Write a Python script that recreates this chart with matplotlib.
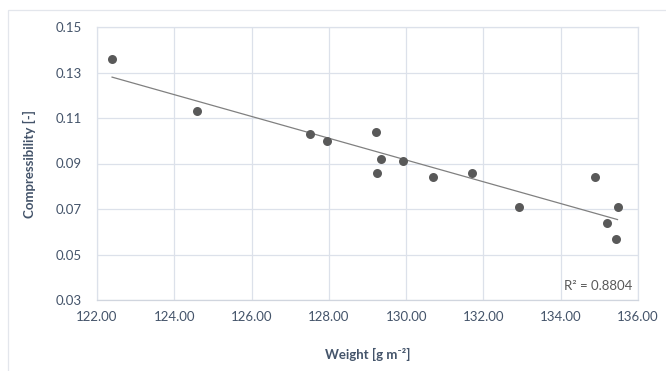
import numpy as np
import matplotlib
matplotlib.use("Agg")
import matplotlib.pyplot as plt
from matplotlib.patches import Rectangle

weight = [122.39, 124.58, 127.51, 127.94, 129.21, 129.25, 129.36, 129.93,
          130.69, 131.70, 132.92, 134.89, 135.47, 135.21, 135.44]
compressibility = [0.136, 0.113, 0.103, 0.100, 0.104, 0.086, 0.092, 0.091,
                   0.084, 0.086, 0.071, 0.084, 0.071, 0.064, 0.057]
x_ticks = [122, 124, 126, 128, 130, 132, 134, 136]
y_ticks = [0.03, 0.05, 0.07, 0.09, 0.11, 0.13, 0.15]
r2_label = "R² = 0.8804"

plt.rcParams['font.family'] = ['Lato', 'DejaVu Sans']
text_col = '#44546A'
grid_col = '#DCE1EA'

fig = plt.figure(figsize=(6.66, 3.71), dpi=100)
ax = fig.add_axes([97/666, 1-300/371, (638-97)/666, (300-27)/371])

# outer chart border
fig.patches.append(Rectangle((8/666, -0.1), 1.2, 1 - 10/371 + 0.1,
                             transform=fig.transFigure, fill=False,
                             edgecolor='#E3E6EC', linewidth=0.9))

ax.scatter(weight, compressibility, s=42, color='#595959', zorder=3, linewidths=0)

xw = np.array(weight)
slope, intercept = np.polyfit(xw, compressibility, 1)
xl = np.array([xw.min(), xw.max()])
ax.plot(xl, slope * xl + intercept, color='#808080', linewidth=0.9, zorder=2)

ax.set_xlim(122, 136)
ax.set_ylim(0.03, 0.15)
ax.set_xticks(x_ticks)
ax.set_xticklabels([f"{v:.2f}" for v in x_ticks])
ax.set_yticks(y_ticks)
ax.set_yticklabels([f"{v:.2f}" for v in y_ticks])
ax.grid(True, color=grid_col, linewidth=0.9)
ax.set_axisbelow(True)
for s in ax.spines.values():
    s.set_color(grid_col)
    s.set_linewidth(0.9)
ax.spines['bottom'].set_color('#D0D5DE')
ax.tick_params(length=0, labelsize=9.5, labelcolor=text_col, pad=8)
ax.tick_params(axis='y', pad=11)

ax.set_xlabel("Weight [g m⁻²]", fontsize=9.5, fontweight='bold', color=text_col, labelpad=18)
ax.set_ylabel("Compressibility [-]", fontsize=9.5, fontweight='bold', color=text_col, labelpad=14)

ax.text(0.99, 0.03, r2_label, transform=ax.transAxes, ha='right', va='bottom',
        fontsize=9.5, color='#595959')

fig.savefig("out.png", dpi=100)
